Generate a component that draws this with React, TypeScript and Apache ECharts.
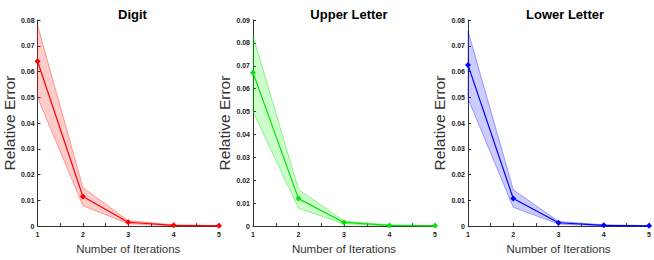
import React, { useEffect, useRef } from "react";
import * as echarts from "echarts";

const iterations = [1, 2, 3, 4, 5];
const titles = ["Digit", "Upper Letter", "Lower Letter"];
const yMaxes = [0.08, 0.09, 0.08];

const digitMean = [0.064, 0.0115, 0.0015, 0.0003, 0.0001];
const digitUpper = [0.078, 0.015, 0.0021, 0.0005, 0.0002];
const digitLower = [0.05, 0.0079, 0.0009, 0.0001, 0.0];

const upperMean = [0.067, 0.012, 0.0016, 0.0003, 0.0001];
const upperUpper = [0.083, 0.016, 0.0022, 0.0005, 0.0002];
const upperLower = [0.05, 0.0078, 0.001, 0.0001, 0.0];

const lowerMean = [0.0625, 0.0107, 0.0013, 0.0003, 0.0001];
const lowerUpper = [0.0757, 0.0141, 0.0018, 0.0005, 0.0002];
const lowerLower = [0.0495, 0.0073, 0.0008, 0.0001, 0.0];

const means = [digitMean, upperMean, lowerMean];
const uppers = [digitUpper, upperUpper, lowerUpper];
const lowers = [digitLower, upperLower, lowerLower];

const lineColors = ["#ff0000", "#00e600", "#0000ff"];
const fillColors = ["rgba(255,0,0,0.2)", "rgba(0,255,0,0.2)", "rgba(0,0,255,0.2)"];
const edgeColors = ["rgba(255,0,0,0.35)", "rgba(0,220,0,0.4)", "rgba(0,0,255,0.35)"];

const grids = [
  { left: 36, width: 183, top: 20, height: 209 },
  { left: 253, width: 182, top: 20, height: 209 },
  { left: 468, width: 184, top: 20, height: 209 },
];

export default function App() {
  const ref = useRef<HTMLDivElement>(null);
  useEffect(() => {
    document.body.style.margin = "0";
    if (!ref.current) return;
    const chart = echarts.init(ref.current, undefined, { renderer: "svg" });
    const series: any[] = [];
    means.forEach((m, i) => {
      const up = uppers[i];
      const lo = lowers[i];
      series.push({
        type: "custom",
        xAxisIndex: i,
        yAxisIndex: i,
        data: [[1, 0]],
        silent: true,
        z: 1,
        renderItem: (params: any, api: any) => {
          const pts: number[][] = [];
          iterations.forEach((x, k) => pts.push(api.coord([x, up[k]])));
          for (let k = iterations.length - 1; k >= 0; k--) pts.push(api.coord([iterations[k], lo[k]]));
          return {
            type: "polygon",
            shape: { points: pts },
            style: { fill: fillColors[i], stroke: edgeColors[i], lineWidth: 1 },
          };
        },
      });
      series.push({
        type: "line",
        xAxisIndex: i,
        yAxisIndex: i,
        data: iterations.map((x, k) => [x, m[k]]),
        symbol: "diamond",
        symbolSize: 6,
        z: 3,
        lineStyle: { color: lineColors[i], width: 1.2 },
        itemStyle: { color: lineColors[i] },
      });
    });
    chart.setOption({
      animation: false,
      title: titles.map((t, i) => ({
        text: t,
        left: grids[i].left + grids[i].width / 2,
        top: 3,
        textAlign: "center",
        textStyle: { fontFamily: "Liberation Sans", fontWeight: "bold", fontSize: 13, color: "#000" },
      })),
      grid: grids.map((g) => ({ ...g, containLabel: false })),
      xAxis: grids.map((g, i) => ({
        type: "value",
        gridIndex: i,
        min: 1,
        max: 5,
        interval: 1,
        name: "Number of Iterations",
        nameLocation: "middle",
        nameGap: 11,
        nameTextStyle: { fontFamily: "Liberation Sans", fontSize: 11.5, color: "#333" },
        axisLine: { lineStyle: { color: "#333", width: 1 } },
        axisTick: { show: true, inside: true, length: 3, lineStyle: { color: "#333" } },
        minorTick: { show: true, splitNumber: 2, length: 3, lineStyle: { color: "#333" } },
        splitLine: { show: false },
        axisLabel: {
          fontFamily: "Liberation Sans",
          fontWeight: "bold",
          fontSize: 7,
          color: "#222",
          margin: 5,
        },
      })),
      yAxis: grids.map((g, i) => ({
        type: "value",
        gridIndex: i,
        min: 0,
        max: yMaxes[i],
        interval: 0.01,
        name: "Relative Error",
        nameLocation: "middle",
        nameRotate: 90,
        nameGap: 18,
        nameTextStyle: { fontFamily: "Liberation Sans", fontSize: 15.5, color: "#333" },
        axisLine: { show: true, lineStyle: { color: "#333", width: 1 } },
        axisTick: { show: true, inside: true, length: 3, lineStyle: { color: "#333" } },
        splitLine: { show: false },
        axisLabel: {
          fontFamily: "Liberation Sans",
          fontWeight: "bold",
          fontSize: 7,
          color: "#222",
          margin: 3,
          formatter: (v: number) => (v === 0 ? "0" : v.toFixed(2)),
        },
      })),
      series,
    });
    return () => chart.dispose();
  }, []);
  return <div ref={ref} style={{ width: 654, height: 260 }} />;
}
